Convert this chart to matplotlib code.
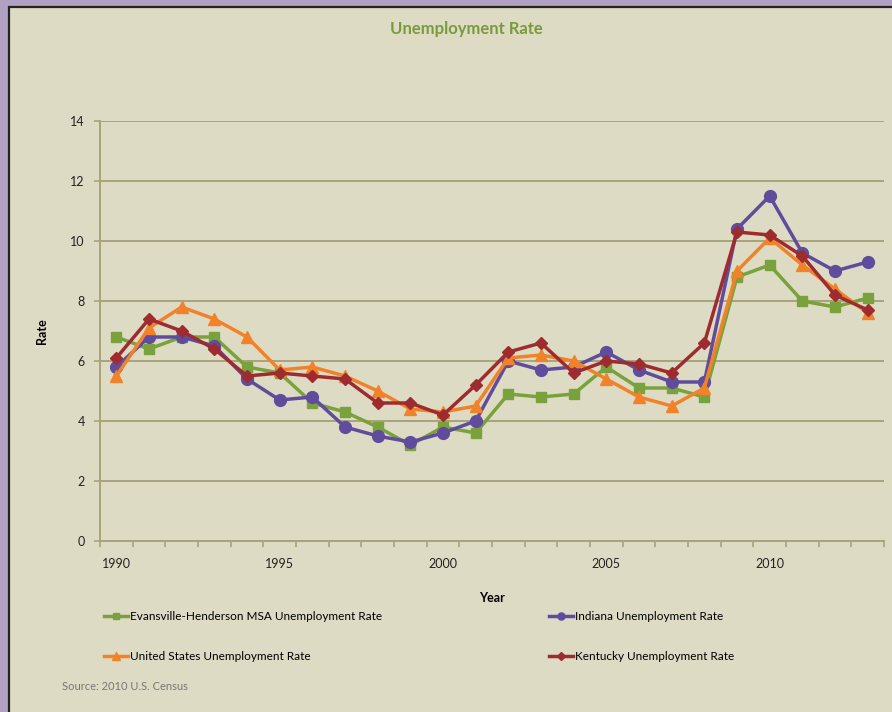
import numpy as np
import matplotlib.pyplot as plt
from matplotlib.patches import Rectangle

# data
years = list(range(1990, 2014))
evansville = [6.8, 6.4, 6.8, 6.8, 5.8, 5.6, 4.6, 4.3, 3.8, 3.2, 3.8, 3.6,
              4.9, 4.8, 4.9, 5.8, 5.1, 5.1, 4.8, 8.8, 9.2, 8.0, 7.8, 8.1]
indiana = [5.8, 6.8, 6.8, 6.5, 5.4, 4.7, 4.8, 3.8, 3.5, 3.3, 3.6, 4.0,
           6.0, 5.7, 5.8, 6.3, 5.7, 5.3, 5.3, 10.4, 11.5, 9.6, 9.0, 9.3]
united_states = [5.5, 7.1, 7.8, 7.4, 6.8, 5.7, 5.8, 5.5, 5.0, 4.4, 4.3, 4.5,
                 6.1, 6.2, 6.0, 5.4, 4.8, 4.5, 5.1, 9.0, 10.1, 9.2, 8.4, 7.6]
kentucky = [6.1, 7.4, 7.0, 6.4, 5.5, 5.6, 5.5, 5.4, 4.6, 4.6, 4.2, 5.2,
            6.3, 6.6, 5.6, 6.0, 5.9, 5.6, 6.6, 10.3, 10.2, 9.5, 8.2, 7.7]

labels = ["Evansville-Henderson MSA Unemployment Rate",
          "Indiana Unemployment Rate",
          "United States Unemployment Rate",
          "Kentucky Unemployment Rate"]
colors = ["#79A23C", "#5F4C9C", "#F28229", "#9E2B2E"]
markers = ["s", "o", "^", "D"]
msizes = [7.5, 8.5, 9, 6.5]

bg = "#DEDBC5"
grid_c = "#A9A37C"

plt.rcParams['font.family'] = ['Lato', 'DejaVu Sans']

fig = plt.figure(figsize=(8.92, 7.12), dpi=100)
fig.patch.set_facecolor("#B0A1C2")
# beige panel with dark edge (runs off the right and bottom edges)
fig.patches.append(Rectangle((9 / 892, -0.05), 1.1, 1.05 - 7 / 712, transform=fig.transFigure,
                             facecolor=bg, edgecolor="#222222", linewidth=1.6, zorder=-5))

ax = fig.add_axes([100 / 892, 171 / 712, 784 / 892, 420 / 712])
ax.patch.set_alpha(0)

x = np.arange(len(years))
series = [evansville, indiana, united_states, kentucky]
lines = []
for vals, lab, c, m, ms in zip(series, labels, colors, markers, msizes):
    ln, = ax.plot(x, vals, color=c, marker=m, markersize=ms, linewidth=2.5,
                  label=lab, markeredgecolor=c, zorder=3)
    lines.append(ln)

ax.set_xlim(-0.5, len(years) - 0.5)
ax.set_ylim(0, 14)
ax.set_yticks(range(0, 15, 2))
ax.yaxis.grid(True, color=grid_c, linewidth=1.4)
ax.set_axisbelow(True)

# category boundaries as tick marks, labels every 5 years
ax.set_xticks(np.arange(-0.5, len(years), 1.0))
ax.set_xticklabels([])
ax.set_xticks([0, 5, 10, 15, 20], minor=True)
ax.set_xticklabels([str(years[i]) for i in [0, 5, 10, 15, 20]], minor=True)
ax.tick_params(axis='x', which='major', length=4, color=grid_c, width=1.2)
ax.tick_params(axis='x', which='minor', length=0, pad=12, labelsize=9, labelcolor="#222222")
ax.tick_params(axis='y', length=4, color=grid_c, width=1.2, pad=7, labelsize=9,
               labelcolor="#222222")

for s in ['top', 'right']:
    ax.spines[s].set_visible(False)
for s in ['left', 'bottom']:
    ax.spines[s].set_color(grid_c)
    ax.spines[s].set_linewidth(1.4)

ax.set_xlabel("Year", fontsize=9, fontweight='bold', labelpad=16)
ax.set_ylabel("Rate", fontsize=9, fontweight='bold', labelpad=16)

fig.text(466 / 892, 1 - 29 / 712, "Unemployment Rate", ha='center', va='center',
         fontsize=12, fontweight='bold', color="#7A9B3D")

# legend entries placed in a 2x2 grid
spots = [(98, 617), (543, 617), (98, 657), (543, 657)]
for ln, (px, py) in zip(lines, spots):
    leg = fig.legend(handles=[ln], loc='center left',
                     bbox_to_anchor=(px / 892, 1 - py / 712), frameon=False,
                     fontsize=8.5, handlelength=2.0, handletextpad=0.2,
                     markerscale=0.6, borderpad=0)

fig.text(62 / 892, 1 - 686 / 712, "Source: 2010 U.S. Census", ha='left', va='center',
         fontsize=8, color="#777777")

fig.savefig("out.png", dpi=100, facecolor=fig.get_facecolor())
